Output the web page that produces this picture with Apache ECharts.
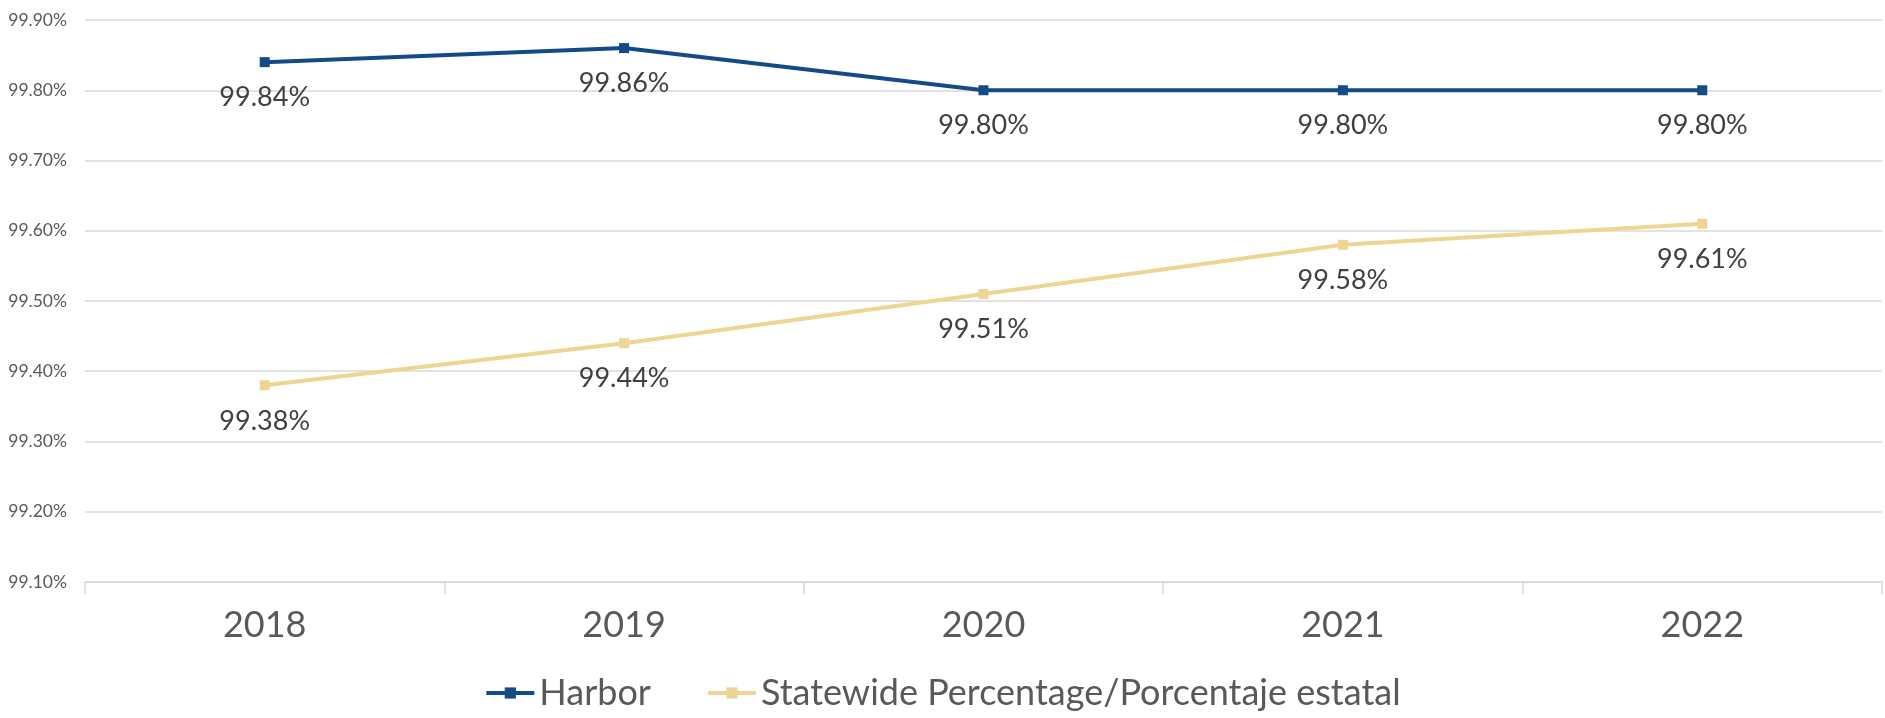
<!DOCTYPE html>
<html>
<head>
<meta charset="utf-8">
<script src="https://cdn.jsdelivr.net/npm/echarts@6/dist/echarts.min.js"></script>
<style>
html,body{margin:0;padding:0;background:#fff;}
#chart{width:1885px;height:718px;}
</style>
</head>
<body>
<div id="chart"></div>
<script>
var categories = ['2018', '2019', '2020', '2021', '2022'];
var harbor = [99.84, 99.86, 99.80, 99.80, 99.80];
var statewide = [99.38, 99.44, 99.51, 99.58, 99.61];
var seriesNames = ['Harbor', 'Statewide Percentage/Porcentaje estatal'];

var FONT = 'Lato, "Open Sans", sans-serif';
var chart = echarts.init(document.getElementById('chart'), null, {renderer: 'canvas'});
function pct(v){ return v.toFixed(2) + '%'; }
function lbl(){
  return {show: true, position: 'bottom', distance: 17, color: '#404040', fontSize: 27, fontFamily: FONT,
    formatter: function(p){ return pct(p.value); }};
}
chart.setOption({
  animation: false,
  grid: {left: 85, right: 3, top: 20, bottom: 136, containLabel: false},
  legend: {
    data: seriesNames, bottom: 2, left: 'center', itemWidth: 48, itemHeight: 14, itemGap: 55,
    lineStyle: {width: 4},
    textStyle: {fontSize: 36, color: '#595959', fontFamily: FONT}
  },
  xAxis: {
    type: 'category', data: categories, boundaryGap: true,
    axisLine: {lineStyle: {color: '#d9d9d9', width: 1.5}},
    axisTick: {show: true, length: 12, lineStyle: {color: '#d9d9d9', width: 1.5}},
    axisLabel: {fontSize: 36, color: '#595959', margin: 25, fontFamily: FONT}
  },
  yAxis: {
    type: 'value', min: 99.1, max: 99.9, interval: 0.1,
    axisLine: {show: false}, axisTick: {show: false},
    splitLine: {lineStyle: {color: '#d9d9d9', width: 1.5}},
    axisLabel: {fontSize: 17.5, color: '#595959', margin: 18, fontFamily: FONT,
      formatter: function(v){ return v.toFixed(2) + '%'; }}
  },
  series: [
    {name: seriesNames[0], type: 'line', data: harbor, symbol: 'rect', symbolSize: 10,
      lineStyle: {color: '#124B85', width: 4}, itemStyle: {color: '#124B85'}, label: lbl()},
    {name: seriesNames[1], type: 'line', data: statewide, symbol: 'rect', symbolSize: 10,
      lineStyle: {color: '#EED593', width: 4}, itemStyle: {color: '#EED593'}, label: lbl()}
  ]
});
</script>
</body>
</html>
